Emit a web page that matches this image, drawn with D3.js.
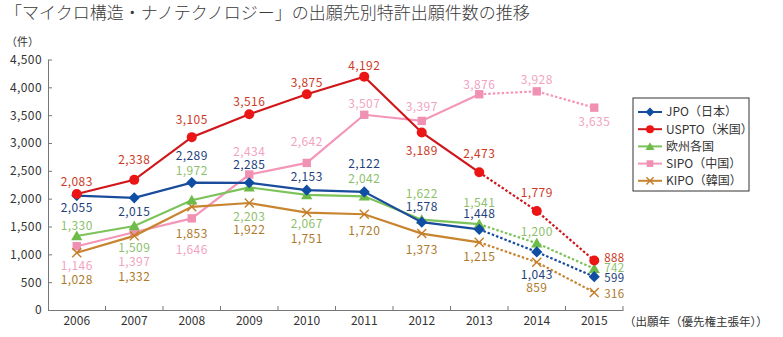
<!DOCTYPE html>
<html>
<head>
<meta charset="utf-8">
<script src="https://cdn.jsdelivr.net/npm/d3@7"></script>
<style>
  body { margin: 0; background: #fff; }
  text { font-family: "Noto Sans CJK JP", "Noto Sans", sans-serif; }
</style>
</head>
<body>
<svg id="chart" width="783" height="337"></svg>
<script>
// data
const years = [2006, 2007, 2008, 2009, 2010, 2011, 2012, 2013, 2014, 2015];
const jpo   = [2055, 2015, 2289, 2285, 2153, 2122, 1578, 1448, 1043, 599];
const uspto = [2083, 2338, 3105, 3516, 3875, 4192, 3189, 2473, 1779, 888];
const epo   = [1330, 1509, 1972, 2203, 2067, 2042, 1622, 1541, 1200, 742];
const sipo  = [1146, 1397, 1646, 2434, 2642, 3507, 3397, 3876, 3928, 3635];
const kipo  = [1028, 1332, 1853, 1922, 1751, 1720, 1373, 1215, 859, 316];
const yTicks = [0, 500, 1000, 1500, 2000, 2500, 3000, 3500, 4000, 4500];
const seriesNames = ["JPO（日本）", "USPTO（米国）", "欧州各国", "SIPO（中国）", "KIPO（韓国）"];
const lastSolidYear = 2013; // after this the lines are dotted

// label offsets (vertical, from point centre)
const labelDy = {
  jpo:   [12, 14, -27, -18, -13, -28, -15, -16, 23, 1],
  uspto: [-12, -20, -17, -13, -12, -11, 18, -19, -18, -3],
  epo:   [-10, 22, -30, 29, 29, -18, -26, -22, -12, -1],
  sipo:  [19, 29, 31, -23, -21, -11, -14, -10, -12, 14],
  kipo:  [27, 41, 27, 27, 26, 16, 16, 14, 25, 1]
};
// series whose last label sits to the right of the point
const lastLabelRight = ["jpo", "uspto", "epo", "kipo"];

const series = [
  {key: "sipo",  name: seriesNames[3], values: sipo,  line: "#f396b9", mark: "#f090b3", label: "#f2a3c2", shape: "square"},
  {key: "kipo",  name: seriesNames[4], values: kipo,  line: "#c8842e", mark: "#c47d2a", label: "#ad7a2c", shape: "x"},
  {key: "epo",   name: seriesNames[2], values: epo,   line: "#7cc35a", mark: "#6dbb48", label: "#8dbf6c", shape: "triangle"},
  {key: "jpo",   name: seriesNames[0], values: jpo,   line: "#1a4c9c", mark: "#0f4ea3", label: "#223f7c", shape: "diamond"},
  {key: "uspto", name: seriesNames[1], values: uspto, line: "#d0161a", mark: "#ec1515", label: "#cc3a26", shape: "circle"}
];
const legendOrder = ["jpo", "uspto", "epo", "sipo", "kipo"];

const svg = d3.select("#chart");

const x = d3.scaleBand()
    .domain(years)
    .range([48, 623]);

const y = d3.scaleLinear()
    .domain([0, 4500])
    .range([310, 59.5]);

// title
svg.append("text")
    .attr("x", 5)
    .attr("y", 19)
    .attr("font-size", 17)
    .attr("font-weight", 300)
    .attr("fill", "#3a3a3a")
    .text("「マイクロ構造・ナノテクノロジー」の出願先別特許出願件数の推移");

svg.append("text")
    .attr("x", 6)
    .attr("y", 46)
    .attr("font-size", 11)
    .attr("fill", "#333")
    .text("（件）");

// y axis
const yAxis = svg.append("g")
    .attr("transform", "translate(48,0)")
    .call(d3.axisLeft(y).tickValues(yTicks).tickSize(-4).tickSizeOuter(0).tickPadding(6).tickFormat(d3.format(",")));
yAxis.select(".domain").attr("stroke", "#777");
yAxis.selectAll(".tick line").attr("stroke", "#777");
yAxis.selectAll(".tick text")
    .attr("font-size", 12)
    .attr("fill", "#333")
    .attr("letter-spacing", 0.4)
    .attr("font-family", "'Noto Sans CJK JP', sans-serif");

// x axis
const xAxis = svg.append("g")
    .attr("transform", "translate(0,310)")
    .call(d3.axisBottom(x).tickSize(0).tickPadding(6));
xAxis.select(".domain").attr("stroke", "#777");
xAxis.selectAll(".tick text")
    .attr("font-size", 12)
    .attr("fill", "#333")
    .attr("font-family", "'Noto Sans CJK JP', sans-serif");

// boundary ticks between years
svg.append("g").selectAll("line")
    .data(years.slice(1).concat(["end"]))
    .join("line")
    .attr("x1", d => d === "end" ? x.range()[1] : x(d))
    .attr("x2", d => d === "end" ? x.range()[1] : x(d))
    .attr("y1", 310)
    .attr("y2", 306)
    .attr("stroke", "#777");

svg.append("text")
    .attr("x", 624)
    .attr("y", 326)
    .attr("font-size", 11.5)
    .attr("fill", "#333")
    .text("（出願年（優先権主張年））");

const cx = d => x(d.year) + x.bandwidth() / 2;

const line = d3.line()
    .x(cx)
    .y(d => y(d.value));

function marker(g, shape, color, s) {
    if (shape === "circle") {
        g.append("circle").attr("r", 5 * s).attr("fill", color);
    } else if (shape === "diamond") {
        g.append("path").attr("d", d3.symbol(d3.symbolSquare, 62 * s * s)())
            .attr("transform", "rotate(45)").attr("fill", color);
    } else if (shape === "square") {
        g.append("path").attr("d", d3.symbol(d3.symbolSquare, 70 * s * s)()).attr("fill", color);
    } else if (shape === "triangle") {
        g.append("path").attr("d", d3.symbol(d3.symbolTriangle, 55 * s * s)())
            .attr("transform", "translate(0,1)").attr("fill", color);
    } else if (shape === "x") {
        g.append("path").attr("d", d3.symbol(d3.symbolTimes, 55 * s * s)())
            .attr("fill", "none").attr("stroke", color).attr("stroke-width", 1.4);
    }
}

series.forEach(s => {
    const pts = years.map((yr, i) => ({year: yr, value: s.values[i], i: i}));
    const solid = pts.filter(p => p.year <= lastSolidYear);
    const dotted = pts.filter(p => p.year >= lastSolidYear);
    const right = p => p.i === years.length - 1 && lastLabelRight.includes(s.key);

    svg.append("path")
        .datum(solid)
        .attr("fill", "none")
        .attr("stroke", s.line)
        .attr("stroke-width", 2.2)
        .attr("d", line);

    svg.append("path")
        .datum(dotted)
        .attr("fill", "none")
        .attr("stroke", s.line)
        .attr("stroke-width", 2.2)
        .attr("stroke-dasharray", "2.5,2")
        .attr("d", line);

    pts.forEach(p => {
        const g = svg.append("g")
            .attr("transform", `translate(${cx(p)},${y(p.value)})`);
        marker(g, s.shape, s.mark, 1);
    });

    svg.append("g").selectAll("text")
        .data(pts)
        .join("text")
        .attr("x", p => right(p) ? cx(p) + 10 : cx(p))
        .attr("y", p => y(p.value) + labelDy[s.key][p.i])
        .attr("dy", "0.36em")
        .attr("text-anchor", p => right(p) ? "start" : "middle")
        .attr("font-size", p => right(p) ? 11.5 : 12)
        .attr("letter-spacing", 0.4)
        .attr("fill", s.label)
        .text(p => d3.format(",")(p.value));
});

// legend
const legend = svg.append("g").attr("transform", "translate(633,98)");
legend.append("rect")
    .attr("width", 116)
    .attr("height", 93)
    .attr("fill", "#fff")
    .attr("stroke", "#333")
    .attr("stroke-width", 1);

legendOrder.forEach((k, i) => {
    const s = series.find(d => d.key === k);
    const row = legend.append("g").attr("transform", `translate(0,${14 + i * 17.2})`);
    row.append("line")
        .attr("x1", 5).attr("x2", 29)
        .attr("stroke", s.line)
        .attr("stroke-width", 2);
    marker(row.append("g").attr("transform", "translate(17,0)"), s.shape, s.mark, 0.8);
    row.append("text")
        .attr("x", 33)
        .attr("dy", "0.36em")
        .attr("font-size", 12)
        .attr("fill", "#333")
        .text(s.name);
});
</script>
</body>
</html>
